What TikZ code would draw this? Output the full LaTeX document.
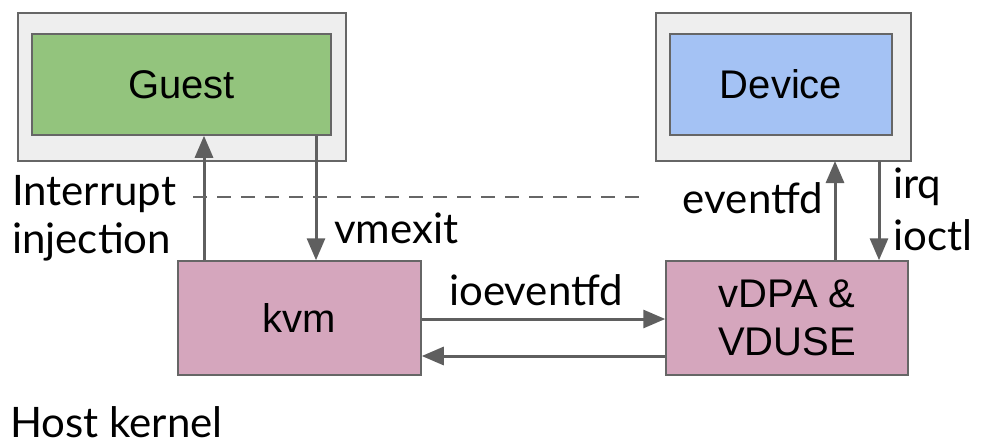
\documentclass[tikz,border=0pt]{standalone}
\usepackage{fontspec}
\setmainfont{Liberation Sans}
\newfontfamily\labelfont{Lato}
\usetikzlibrary{arrows.meta}
\definecolor{framegray}{HTML}{EEEEEE}
\definecolor{edgegray}{HTML}{666666}
\definecolor{guestgreen}{HTML}{93C47D}
\definecolor{devblue}{HTML}{A4C2F4}
\definecolor{kpink}{HTML}{D5A6BD}
\definecolor{arrowgray}{HTML}{5F5F5F}
\tikzset{
  frame/.style={draw=edgegray, line width=1.5pt, fill=framegray},
  box/.style={draw=edgegray, line width=1.5pt, inner sep=0pt, font=\fontsize{40}{48}\selectfont},
  flow/.style={draw=arrowgray, line width=3pt, -{Triangle[length=22pt,width=18pt]}},
  lbl/.style={inner sep=0pt, font=\labelfont\fontsize{42}{48}\selectfont},
}
\begin{document}
\begin{tikzpicture}[x=1pt,y=-1pt]
\useasboundingbox (0,0) rectangle (981,447);
% guest side
\draw[frame] (18,13) rectangle (346,161);
\node[box, fill=guestgreen, minimum width=299pt, minimum height=101pt] (guest) at (181.5,84.5) {Guest};
% device side
\draw[frame] (656,13) rectangle (911,161);
\node[box, fill=devblue, minimum width=222pt, minimum height=101pt] (device) at (781,84.5) {Device};
% kernel components
\node[box, fill=kpink, minimum width=243pt, minimum height=114pt] (kvm) at (299.5,318) {kvm};
\node[box, fill=kpink, minimum width=242pt, minimum height=114pt, align=center] (vdpa) at (787,318) {vDPA \&\\VDUSE};
% connectors
\draw[flow] (kvm.north -| 204,0) -- (guest.south -| 204,0);
\draw[flow] (guest.south -| 316,0) -- (kvm.north -| 316,0);
\draw[flow] (vdpa.north -| 835,0) -- (835,161);
\draw[flow] (879,161) -- (vdpa.north -| 879,0);
\draw[flow] (kvm.east |- 0,319) -- (vdpa.west |- 0,319);
\draw[flow] (vdpa.west |- 0,356) -- (kvm.east |- 0,356);
\coordinate (dashL) at (193,197);
\coordinate (dashR) at (640,197);
\draw[edgegray, line width=2.5pt, dash pattern=on 14pt off 10pt] (dashL) -- (dashR);
% labels
\node[lbl, anchor=base west] (intr) at (12,205) {Interrupt};
\node[lbl, anchor=base west] (inj) at (12,253) {injection};
\node[lbl, anchor=base west] (vmx) at (334,243) {vmexit};
\node[lbl, anchor=base] (iofd) at (536,305) {ioeventfd};
\node[lbl, anchor=base east] (evfd) at (823,213) {eventfd};
\node[lbl, anchor=base west] (irq) at (893,198) {irq};
\node[lbl, anchor=base west] (ioctl) at (893,250) {ioctl};
\node[lbl, anchor=base west] (host) at (10,437) {Host kernel};
\end{tikzpicture}
\end{document}
